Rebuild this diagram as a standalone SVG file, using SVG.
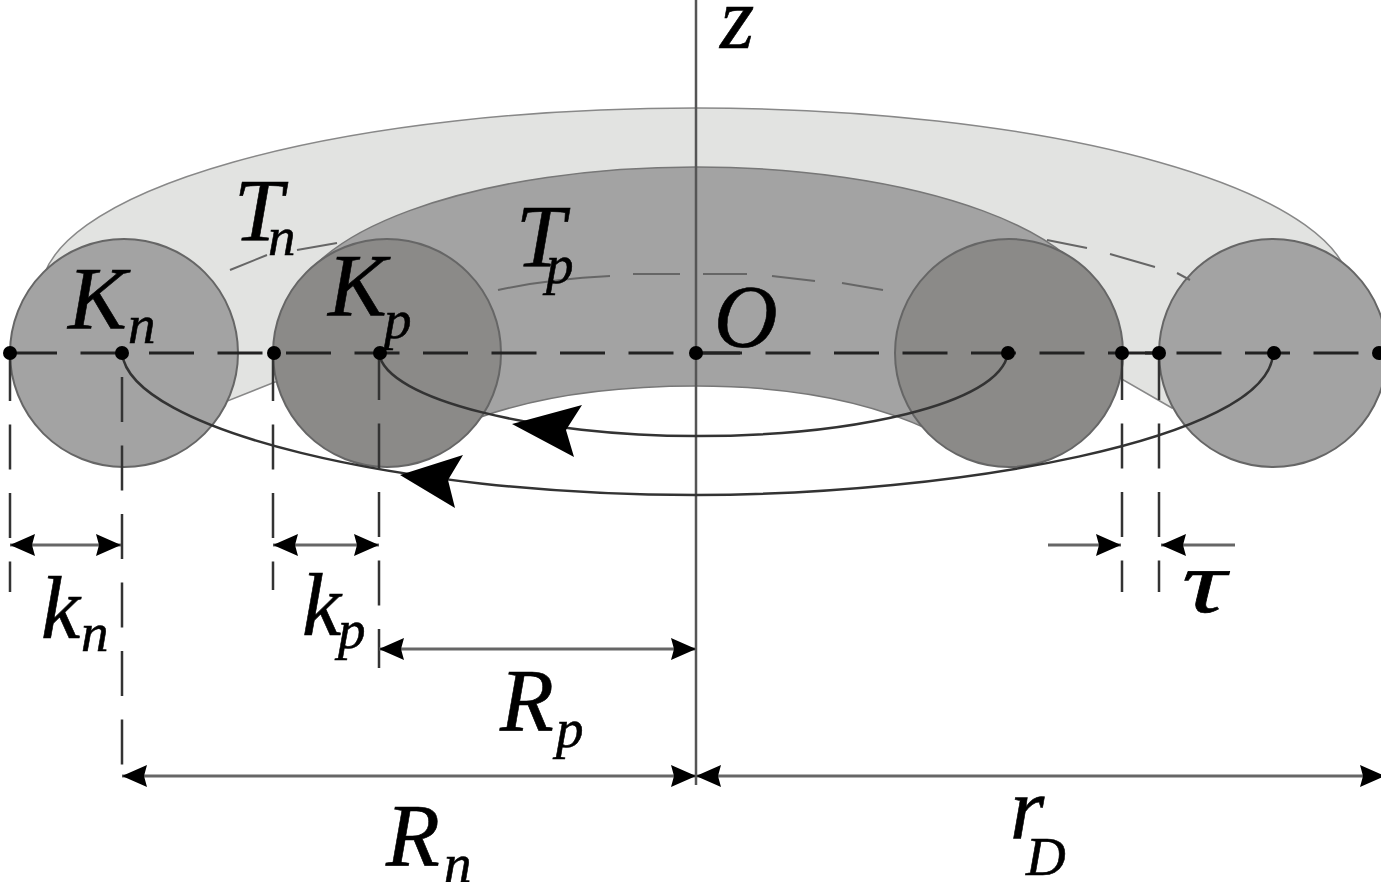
<svg xmlns="http://www.w3.org/2000/svg" width="1381" height="882" viewBox="0 0 1381 882">
<style>
text{font-family:"Liberation Serif",serif;font-style:italic;fill:#000;stroke:#000;stroke-width:.6}
.b{font-size:88px}.s{font-size:55px}
.l{fill:none;stroke:#333;stroke-width:2.5}
.m{fill:none;stroke:#666;stroke-width:3.2}
.d{fill:none;stroke:#333;stroke-width:2.5;stroke-dasharray:45 23.5}
.h{fill:none;stroke:#222;stroke-width:3;stroke-dasharray:45 23.5}
.g{fill:none;stroke:#666;stroke-width:2}
.c{stroke:#666;stroke-width:2}
</style>
<defs>
<marker id="a" markerUnits="userSpaceOnUse" markerWidth="26" markerHeight="24" refX="25" refY="12" orient="auto-start-reverse"><path d="M0 1L25 12L0 23L3 12Z" fill="#000"/></marker>
</defs>
<rect width="1381" height="882" fill="#fff"/>
<g id="torus-outer"><path d="M41 293A655 185 0 0 1 1351 293L1172 408L1120 378L696 360L275 382L225 402Z" fill="#e2e3e1" stroke="#888" stroke-width="1.5"/></g>
<g id="torus-inner"><path d="M291 316A405 149 0 0 1 1101 316L930 430C870 402 790 386 696 386C600 386 520 400 460 425Z" fill="#a3a3a3" stroke="#777" stroke-width="1.5"/></g>
<g id="node-Kn"><circle cx="124" cy="353" r="114" fill="#a3a3a3" class="c"/></g>
<g id="node-Kp"><circle cx="387" cy="353" r="114" fill="#8b8a88" class="c"/></g>
<g id="node-Kp2"><circle cx="1009" cy="353" r="114" fill="#8b8a88" class="c"/></g>
<g id="node-Kn2"><circle cx="1273" cy="353" r="114" fill="#a3a3a3" class="c"/></g>
<g id="connectors">
<path class="g" d="M230 270L267 255M297 250L337 243M498 290C530 283 570 278 610 276M633 274H680M703 274H747M772 276L815 281M842 283L883 290M1047 240L1087 248M1110 254L1155 267M1177 273L1190 280"/>
<path d="M696 0V785" stroke="#555" stroke-width="2.5" fill="none"/>
<path class="h" d="M12 353H1381"/>
<path d="M696 353H740M1145 353H1159" stroke="#222" stroke-width="3"/>
<path class="d" d="M10 356V592M122 377V765M273 356V590M379 355V668M1122 355V592M1159 355V592"/>
<path class="l" d="M122 353C130 430 400 495 696 495C950 495 1270 440 1273 353"/>
<path class="l" d="M379 353C385 400 540 436 696 436C850 436 1000 405 1008 353"/>
<path d="M400 475L463 455L448 480L455 508Z M512 424L582 405L566 430L574 457Z" fill="#000"/>
<path class="m" marker-start="url(#a)" marker-end="url(#a)" d="M10 545H121"/>
<path class="m" marker-start="url(#a)" marker-end="url(#a)" d="M273 545H379"/>
<path class="m" marker-end="url(#a)" d="M1048 545H1121"/>
<path class="m" marker-end="url(#a)" d="M1235 545H1161"/>
<path class="m" marker-start="url(#a)" marker-end="url(#a)" d="M379 649H696"/>
<path class="m" marker-start="url(#a)" marker-end="url(#a)" d="M122 776H696"/>
<path class="m" marker-start="url(#a)" marker-end="url(#a)" d="M696 776H1385"/>
<g fill="#000"><circle cx="10" cy="353" r="7"/><circle cx="122" cy="353" r="7"/><circle cx="274" cy="353" r="7"/><circle cx="380" cy="353" r="7"/><circle cx="696" cy="353" r="7"/><circle cx="1008" cy="353" r="7"/><circle cx="1122" cy="353" r="7"/><circle cx="1159" cy="353" r="7"/><circle cx="1274" cy="353" r="7"/><circle cx="1379" cy="353" r="7"/></g>
</g>
<g id="labels">
<text class="b" x="720" y="48">z</text>
<text class="b" x="234" y="240">T</text><text class="s" x="268" y="255">n</text>
<text class="b" x="516" y="266">T</text><text class="s" x="546" y="283">p</text>
<text class="b" x="68" y="328">K</text><text class="s" x="128" y="343">n</text>
<text class="b" x="328" y="315">K</text><text class="s" x="384" y="338">p</text>
<text class="b" x="714" y="346">O</text>
<text class="b" x="41" y="638">k</text><text class="s" x="81" y="651">n</text>
<text class="b" x="302" y="635">k</text><text class="s" x="338" y="648">p</text>
<text class="b" x="1182" y="612" textLength="44" lengthAdjust="spacingAndGlyphs">τ</text>
<text class="b" x="500" y="730">R</text><text class="s" x="556" y="747">p</text>
<text class="b" x="386" y="865">R</text><text class="s" x="444" y="882">n</text>
<text class="b" x="1010" y="838">r</text><text class="s" x="1026" y="875">D</text>
</g>
</svg>
